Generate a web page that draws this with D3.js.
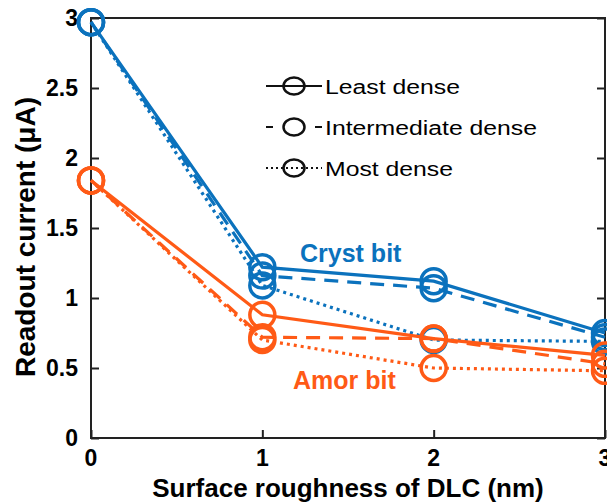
<!DOCTYPE html>
<html>
<head>
<meta charset="utf-8">
<script src="https://cdn.jsdelivr.net/npm/d3@7"></script>
<style>
  body { margin: 0; background: #fff; }
  svg { font-family: Arial, "Liberation Sans", sans-serif; }
</style>
</head>
<body>
<svg id="chart" width="607" height="502"></svg>
<script>
// roughness values (nm)
const roughness = [0, 1, 2, 3];
const yTicks = [0, 0.5, 1, 1.5, 2, 2.5, 3];

// readout current (uA), crystalline bit
const crystLeast = [2.97, 1.22, 1.12, 0.75];
const crystInter = [2.97, 1.16, 1.07, 0.72];
const crystMost = [2.97, 1.09, 0.70, 0.69];

// readout current (uA), amorphous bit
const amorLeast = [1.84, 0.88, 0.71, 0.59];
const amorInter = [1.84, 0.72, 0.71, 0.53];
const amorMost = [1.84, 0.70, 0.50, 0.48];

const densities = ['Least dense', 'Intermediate dense', 'Most dense'];
const dashes = ['none', '14,9', '3,4'];

const blue = '#0b72bd', orange = '#ff5a16';

const series = [
  {vals: crystLeast, color: blue, dash: dashes[0]},
  {vals: crystInter, color: blue, dash: dashes[1]},
  {vals: crystMost, color: blue, dash: dashes[2]},
  {vals: amorLeast, color: orange, dash: dashes[0]},
  {vals: amorInter, color: orange, dash: dashes[1]},
  {vals: amorMost, color: orange, dash: dashes[2]},
];

const svg = d3.select('#chart');
const mLeft = 91, mRight = 605, mTop = 18, mBottom = 438;

const x = d3.scaleLinear().domain([0, 3]).range([mLeft, mRight]);
const y = d3.scaleLinear().domain([0, 3]).range([mBottom, mTop]);

// frame
svg.append('rect')
  .attr('x', mLeft).attr('y', mTop)
  .attr('width', mRight - mLeft).attr('height', mBottom - mTop)
  .attr('fill', 'none').attr('stroke', '#222').attr('stroke-width', 2);

// inward ticks
const yAxis = svg.append('g').attr('transform', `translate(${mLeft},0)`)
  .call(d3.axisRight(y).tickValues(yTicks).tickSize(8).tickFormat(''));
const yAxisR = svg.append('g').attr('transform', `translate(${mRight},0)`)
  .call(d3.axisLeft(y).tickValues(yTicks).tickSize(8).tickFormat(''));
const xAxis = svg.append('g').attr('transform', `translate(0,${mBottom})`)
  .call(d3.axisTop(x).tickValues(roughness).tickSize(8).tickFormat(''));
[yAxis, yAxisR, xAxis].forEach(a => {
  a.select('.domain').remove();
  a.selectAll('line').attr('stroke', '#222').attr('stroke-width', 2);
});

// tick labels
svg.append('g').selectAll('text').data(yTicks).join('text')
  .attr('x', mLeft - 13).attr('y', d => y(d) + 8)
  .attr('text-anchor', 'end')
  .attr('font-size', 23).attr('font-weight', 'bold')
  .text(d => d);
svg.append('g').selectAll('text').data(roughness).join('text')
  .attr('x', d => x(d)).attr('y', mBottom + 28)
  .attr('text-anchor', 'middle')
  .attr('font-size', 23).attr('font-weight', 'bold')
  .text(d => d);

// axis titles
svg.append('text')
  .attr('transform', `translate(35,237) rotate(-90)`)
  .attr('text-anchor', 'middle')
  .attr('font-size', 28).attr('font-weight', 'bold')
  .text('Readout current (\u03bcA)');
svg.append('text')
  .attr('x', 348).attr('y', 497)
  .attr('text-anchor', 'middle')
  .attr('font-size', 26).attr('font-weight', 'bold')
  .text('Surface roughness of DLC (nm)');

// data lines and circles
const line = d3.line().x((d, i) => x(roughness[i])).y(d => y(d));
const g = svg.append('g');
series.forEach(s => {
  g.append('path')
    .attr('d', line(s.vals))
    .attr('fill', 'none').attr('stroke', s.color)
    .attr('stroke-width', 3.2).attr('stroke-dasharray', s.dash);
  g.selectAll(null).data(s.vals).join('circle')
    .attr('cx', (d, i) => x(roughness[i])).attr('cy', d => y(d))
    .attr('r', 12.5)
    .attr('fill', 'none').attr('stroke', s.color).attr('stroke-width', 3.5);
});

// series labels
svg.append('text').attr('x', 300).attr('y', 262)
  .attr('font-size', 25).attr('font-weight', 'bold').attr('fill', blue)
  .text('Cryst bit');
svg.append('text').attr('x', 293).attr('y', 389)
  .attr('font-size', 25).attr('font-weight', 'bold').attr('fill', orange)
  .text('Amor bit');

// legend
const legend = svg.append('g');
const legY = d3.scalePoint().domain(densities).range([86, 168]);
const stretch = 1.18;
densities.forEach((name, i) => {
  const ly = legY(name);
  legend.append('line')
    .attr('x1', 266).attr('x2', 322).attr('y1', ly).attr('y2', ly)
    .attr('stroke', '#111').attr('stroke-width', 2)
    .attr('stroke-dasharray', i === 0 ? 'none' : i === 1 ? '7,42' : '2,3');
  legend.append('ellipse')
    .attr('cx', 294).attr('cy', ly).attr('rx', 10.5).attr('ry', 8.5)
    .attr('fill', 'none').attr('stroke', '#111').attr('stroke-width', 2.5);
  legend.append('text')
    .attr('transform', `translate(325,${ly + 7.5}) scale(${stretch},1)`)
    .attr('font-size', 21)
    .text(name);
});
</script>
</body>
</html>
